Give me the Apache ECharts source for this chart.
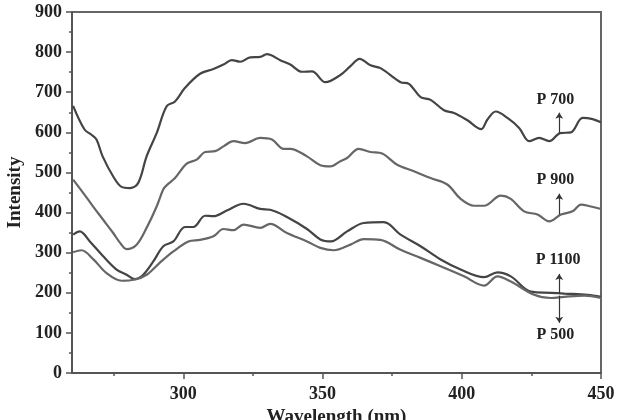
<!DOCTYPE html>
<html><head><meta charset="utf-8">
<script src="https://cdn.jsdelivr.net/npm/echarts@6/dist/echarts.min.js"></script>
<style>html,body{margin:0;padding:0;background:#fff}#c{width:620px;height:420px}</style>
</head><body><div id="c"></div>
<script>
// ---- data ----
const p700X = [260.4,264.5,267,268.8,271,274.8,277.8,280.8,283.8,286.8,290.4,294,297,300.6,306,310.8,314.4,317.4,320.4,324,327.6,330,334.8,338.4,342.6,346.2,351,356.4,360,363.3,367.2,370.8,378,381,385.2,388.8,393.6,397.2,402,407,409.2,412.2,416.4,420.6,424.2,427.8,431.4,435.3,439.2,443.4,447,450];
const p700Y = [666,607,594,582,540,490,464,461,474,540,598,665,677,711,746,758,769,780,776,787,788,795,780,769,751,752,725,743,765,783,767,760,725,721,688,681,655,648,630,608,632,652,636,611,578,586,578,598,600,636,633,625];

const p900X = [260.4,264,267.6,271.2,274.8,277.2,279.6,283.2,286.8,290.4,292.8,294,297,301.2,304.8,307.8,311.4,314.4,318,322.2,327.6,331.8,336,338.4,344.4,349.2,352.8,356.4,358.8,363,367.2,371.4,376.8,382.8,388.8,394.8,399.6,404.4,408,414,417.6,422.4,427.2,431.4,435.6,439.8,442.8,446.4,450];
const p900Y = [482,449,415,382,349,325,309,320,362,415,458,468,486,522,532,551,553,565,578,573,586,582,559,559,540,518,515,528,536,559,551,547,519,503,486,470,434,417,417,442,434,403,395,378,395,403,420,415,409];

const p1100X = [260.4,262.8,266.4,271.2,276,279.6,282.6,285.6,289.2,292.8,296.4,300.6,303.6,307.8,310.8,315.6,321.6,327.6,331.2,337.2,344.4,349.2,353,358.8,364.8,372,378,385.2,392.4,399.6,408,412.8,417.6,424.8,432,436.8,445.2,450];
const p1100Y = [345,353,328,291,258,245,234,245,278,316,328,364,364,392,391,405,422,409,407,389,359,333,328,353,374,376,345,316,283,258,239,251,241,203,200,198,195,190];

const p500X = [260.4,263.4,267.6,272.4,277.8,282.6,286.8,291.4,296.4,301.8,306,310.8,314.4,318,321.6,327.6,331.2,337.2,344.4,349.2,354,360,364.8,370.8,378,385.2,392.4,400.8,408,412.8,417.6,426,432,436.8,444,450];
const p500Y = [301,306,284,249,230,233,245,274,303,328,332,341,359,356,370,362,372,349,328,312,306,320,334,332,307,287,266,241,218,241,228,195,187,190,193,187];

const seriesNames = ['P 700','P 900','P 1100','P 500'];
// annotation: label position and arrow (from curve -> toward label), in data units
const annArrowX = [435,435,435,435];
const annLabelX = [433.6,433.6,434.6,433.6];
const annLabelY = [681,482,282,96];
const annArrowFrom = [598,395,198,193];
const annArrowTo = [649,447,247,125];

const yTicks = [0,100,200,300,400,500,600,700,800,900];
const xMajor = [300,350,400,450];
const xMinor = [275,325,375,425];

const font = 'Liberation Serif';
const lineColors = ['#444','#666','#444','#666'];

function pairs(xs, ys){ return xs.map((x,i)=>[x, ys[i]]); }
const allX = [p700X,p900X,p1100X,p500X];
const allY = [p700Y,p900Y,p1100Y,p500Y];

const series = seriesNames.map((n,i)=>({
  name: n, type: 'line', data: pairs(allX[i], allY[i]),
  showSymbol: false, smooth: 0.35,
  lineStyle: {color: lineColors[i], width: 2.2},
  silent: true,
  markLine: {
    silent: true, symbol: ['none','arrow'], symbolSize: 6,
    lineStyle: {color: '#333', width: 1.2, type: 'solid'},
    label: {show: false},
    data: [[{coord: [annArrowX[i], annArrowFrom[i]]}, {coord: [annArrowX[i], annArrowTo[i]]}]]
  },
  markPoint: {
    silent: true, symbol: 'circle', symbolSize: 1,
    itemStyle: {color: 'rgba(0,0,0,0)'},
    label: {show: true, position: 'inside', formatter: n, color: '#222',
      fontFamily: font, fontWeight: 'bold', fontSize: 16},
    data: [{coord: [annLabelX[i], annLabelY[i]]}]
  }
}));

const chart = echarts.init(document.getElementById('c'), null, {renderer: 'canvas'});
chart.setOption({
  animation: false,
  backgroundColor: '#fff',
  grid: {left: 72, right: 19, top: 12, bottom: 47, outerBoundsMode: 'none', containLabel: false,
    show: true, borderColor: '#666', borderWidth: 2, backgroundColor: 'transparent'},
  xAxis: [{
    type: 'value', min: 260, max: 450,
    name: 'Wavelength (nm)', nameLocation: 'middle', nameGap: 31,
    nameTextStyle: {fontFamily: font, fontWeight: 'bold', fontSize: 19, color: '#222'},
    axisLine: {show: true, onZero: false, lineStyle: {color: '#555', width: 2}},
    axisTick: {show: true, length: 6, customValues: xMajor, lineStyle: {color: '#555', width: 1.5}},
    axisLabel: {show: true, customValues: xMajor, margin: 12, fontFamily: font, fontWeight: 'bold', fontSize: 18, color: '#222'},
    splitLine: {show: false}
  },{
    type: 'value', min: 260, max: 450, position: 'bottom',
    axisLine: {show: false},
    axisTick: {show: true, length: 3, customValues: xMinor, lineStyle: {color: '#555', width: 1.5}},
    axisLabel: {show: false},
    splitLine: {show: false}
  }],
  yAxis: {
    type: 'value', min: 0, max: 900, interval: 100,
    name: 'Intensity', nameLocation: 'middle', nameGap: 47,
    nameTextStyle: {fontFamily: font, fontWeight: 'bold', fontSize: 19, color: '#222'},
    axisLine: {show: true, lineStyle: {color: '#555', width: 2}},
    axisTick: {show: true, length: 6, lineStyle: {color: '#555', width: 1.5}},
    minorTick: {show: true, splitNumber: 2, length: 3, lineStyle: {color: '#555', width: 1.5}},
    axisLabel: {margin: 10, fontFamily: font, fontWeight: 'bold', fontSize: 18, color: '#222',
      customValues: yTicks},
    splitLine: {show: false}
  },
  series: series
});
</script></body></html>
